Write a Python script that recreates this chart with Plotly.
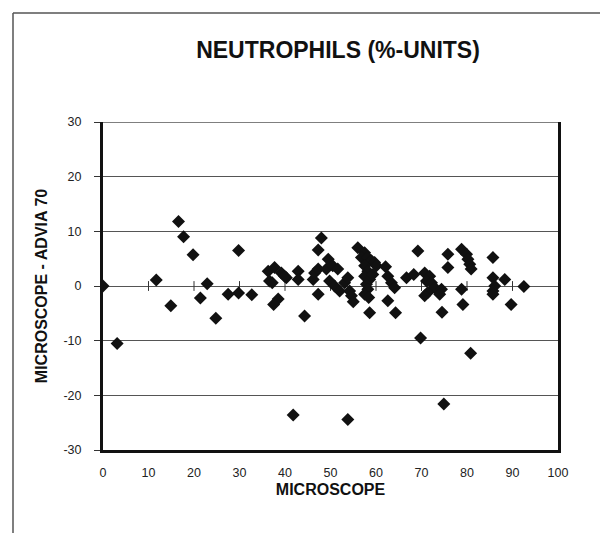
import plotly.graph_objects as go

# Microscope (%) values
microscope = [
    0, 3.1, 11.7, 14.9, 16.6, 17.7, 19.8, 21.4, 22.9, 24.8, 27.5, 29.8, 29.8, 32.7,
    36.3, 36.6, 37.2, 37.7, 38.5, 37.5, 39.2, 40.3, 39.9, 41.8, 42.9, 42.9, 44.3,
    46.2, 46.5, 47.3, 47.3, 47.3, 48.0, 49.1, 49.5, 50.5, 51.6, 49.8, 50.9, 52.0,
    53.1, 53.8, 53.8, 54.2, 54.6, 55.0, 56.0, 57.5, 56.8, 58.2, 59.0, 59.7, 57.5,
    58.2, 57.5, 58.6, 57.9, 58.2, 57.5, 58.4, 58.6, 60.1, 59.3, 62.1, 62.6, 63.4,
    64.1, 62.6, 64.3, 66.7, 68.3, 69.2, 69.8, 70.7, 71.8, 71.1, 72.2, 72.9, 71.4,
    70.7, 74.4, 74.0, 74.5, 74.9, 75.8, 75.8, 78.8, 79.9, 80.2, 80.6, 80.9, 78.8,
    79.1, 80.8, 85.7, 85.7, 86.1, 85.7, 85.7, 88.3, 89.7, 92.5,
]
# Difference Microscope - ADVIA 70 (%-units)
difference = [
    0.0, -10.5, 1.1, -3.6, 11.8, 9.0, 5.7, -2.2, 0.4, -5.9, -1.5, 6.5, -1.3, -1.6,
    2.7, 0.9, 0.6, 3.4, -2.4, -3.4, 2.4, 1.5, 1.8, -23.6, 2.7, 1.2, -5.5,
    1.2, 2.4, 3.1, -1.5, 6.6, 8.8, 3.1, 4.9, 3.7, 3.1, 0.9, 0.0, -0.9,
    0.6, 1.5, -24.4, -0.9, -1.8, -2.9, 7.0, 6.1, 5.2, 5.2, 4.6, 4.3, 3.7,
    2.7, 1.8, 1.2, 0.3, -0.6, -1.5, -2.1, -4.9, 3.7, 2.1, 3.5, 1.8, 0.6,
    -0.3, -2.7, -4.9, 1.5, 2.1, 6.4, -9.5, 2.4, 1.8, 0.9, 0.6, -0.3, -1.2,
    -1.8, -0.6, -1.5, -4.8, -21.6, 5.8, 3.4, 6.7, 5.8, 4.9, 4.0, 3.1, -0.6,
    -3.4, -12.3, 5.2, 1.5, 0.0, -0.9, -1.5, 1.2, -3.4, -0.1,
]
x_ticks = [0, 10, 20, 30, 40, 50, 60, 70, 80, 90, 100]
y_ticks = [-30, -20, -10, 0, 10, 20, 30]
y_tick_labels = ["-30", "-20", "-10", "0", "10", "20", "30"]

FONT = "Liberation Sans, Arial, sans-serif"

fig = go.Figure()
# small tick marks along the zero line
fig.add_trace(go.Scatter(
    x=x_ticks[1:-1], y=[0] * (len(x_ticks) - 2), mode="markers",
    marker=dict(symbol="line-ns-open", size=7, color="#333", line=dict(color="#333", width=1)),
    hoverinfo="skip", showlegend=False,
))
fig.add_trace(go.Scatter(
    x=microscope, y=difference, mode="markers",
    marker=dict(symbol="diamond", size=10, color="#111", line=dict(width=0)),
    showlegend=False,
))

fig.update_layout(
    width=608, height=533,
    margin=dict(l=95, r=58, t=114, b=91),
    paper_bgcolor="white", plot_bgcolor="white",
    font=dict(family=FONT, color="#222", size=12),
    title=dict(text="<b>NEUTROPHILS (%-UNITS)</b>", x=330 / 608, xanchor="center",
               xref="container", y=1 - 42 / 533, yanchor="middle", yref="container",
               font=dict(size=23, family=FONT, color="#111")),
    xaxis=dict(range=[0, 100], tickvals=x_ticks, ticktext=[str(v) for v in x_ticks],
               showgrid=False, zeroline=False, showline=True, linecolor="#111",
               linewidth=3, ticks="", ticklabelstandoff=9,
               tickfont=dict(size=12.5, color="#222"),
               title=dict(text="<b>MICROSCOPE</b>", standoff=5,
                          font=dict(size=16, color="#111"))),
    yaxis=dict(range=[-30, 30], tickvals=y_ticks, ticktext=y_tick_labels,
               showgrid=True, gridcolor="#555",
               gridwidth=1.3, zeroline=False, showline=True, mirror=True,
               linecolor="#111", linewidth=3, ticks="outside", ticklen=6,
               tickcolor="#333", tickwidth=1.2, ticklabelstandoff=10,
               tickfont=dict(size=12.5, color="#222"),
               title=dict(text="<b>MICROSCOPE - ADVIA 70</b>", standoff=12,
                          font=dict(size=16, color="#111"))),
    shapes=[
        dict(type="line", xref="paper", yref="y", x0=0, x1=1, y0=30, y1=30,
             line=dict(color="#555", width=1.3)),
        dict(type="line", xref="paper", yref="paper", x0=-0.1978, x1=-0.1978,
             y0=-0.2774, y1=1.3323, line=dict(color="#555", width=1.5)),
        dict(type="line", xref="paper", yref="paper", x0=-0.1978, x1=1.1275,
             y0=1.3323, y1=1.3323, line=dict(color="#555", width=1.5)),
    ],
)

fig.write_html("out.html")
